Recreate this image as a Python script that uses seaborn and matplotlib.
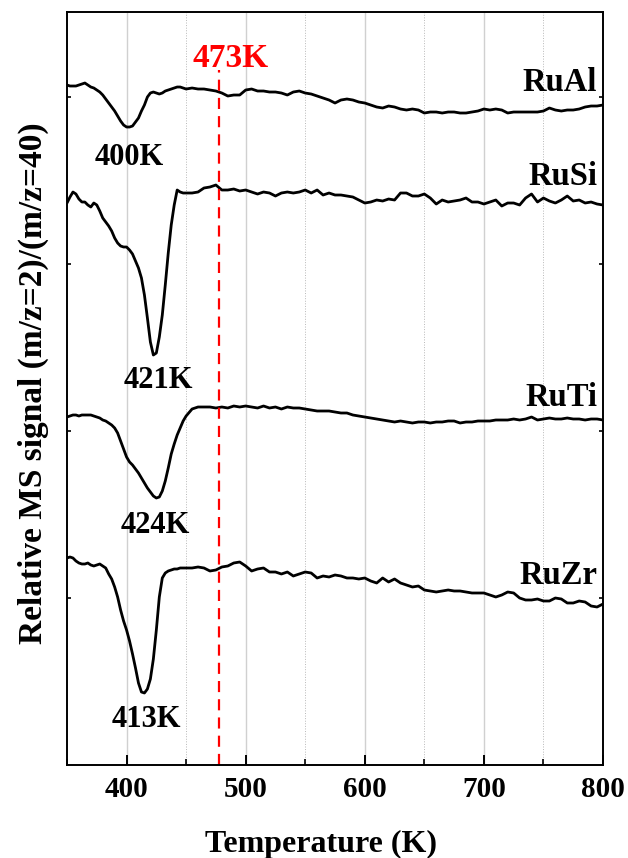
import numpy as np
import pandas as pd
import matplotlib
matplotlib.use("Agg")
import matplotlib.pyplot as plt
from matplotlib.ticker import MultipleLocator
import seaborn as sns

# temperature grid: 2.5 K steps through the desorption peaks, 5 K after
temps = np.concatenate([np.arange(350, 450, 2.5), np.arange(450, 801, 5)])

# relative MS signal (a.u., curves already stacked)
ru_al = [680, 679, 679, 679, 680, 681, 682, 680, 678, 677,
         675, 673, 670, 666, 662, 658, 654, 649, 644, 640,
         638, 638, 639, 643, 647, 654, 660, 668, 672, 673,
         672, 671, 672, 674, 675, 676, 677, 678, 678, 677,
         676, 677, 676, 676, 675, 674, 672, 669, 670, 670,
         675, 676, 674, 674, 673, 673, 672, 670, 673, 674,
         672, 671, 669, 667, 665, 662, 665, 666, 665, 663,
         662, 660, 658, 657, 659, 658, 656, 655, 656, 655,
         652, 653, 653, 652, 653, 653, 652, 652, 653, 654,
         656, 655, 656, 655, 652, 653, 653, 653, 653, 653,
         654, 657, 655, 654, 655, 655, 656, 658, 659, 659,
         660]

ru_si = [562, 568, 573, 571, 566, 563, 563, 560, 558, 562,
         560, 554, 547, 543, 539, 534, 527, 522, 519, 518,
         518, 515, 511, 504, 497, 487, 470, 447, 423, 410,
         412, 428, 450, 480, 512, 540, 560, 575, 573, 572,
         572, 572, 573, 577, 578, 580, 575, 575, 576, 574,
         575, 573, 571, 573, 572, 569, 572, 573, 572, 573,
         575, 572, 575, 570, 572, 570, 570, 569, 568, 565,
         562, 563, 565, 564, 566, 565, 572, 572, 569, 569,
         571, 567, 561, 565, 563, 564, 565, 567, 563, 563,
         561, 563, 565, 559, 562, 562, 560, 567, 571, 563,
         567, 564, 562, 565, 569, 564, 565, 562, 563, 561,
         560]

ru_ti = [348, 349, 350, 350, 349, 350, 350, 350, 350, 349,
         348, 347, 345, 344, 342, 340, 337, 332, 324, 316,
         308, 303, 300, 296, 292, 287, 282, 277, 273, 269,
         267, 268, 274, 284, 297, 311, 321, 330, 337, 344,
         349, 356, 358, 358, 358, 357, 358, 357, 359, 358,
         359, 358, 357, 359, 357, 358, 356, 358, 357, 357,
         356, 355, 354, 354, 354, 353, 352, 352, 350, 349,
         348, 347, 346, 345, 344, 343, 344, 343, 342, 343,
         343, 342, 343, 343, 344, 344, 342, 343, 343, 344,
         344, 344, 345, 345, 345, 346, 345, 346, 348, 345,
         346, 347, 346, 346, 347, 346, 346, 345, 346, 346,
         345]

ru_zr = [207, 208, 207, 204, 202, 201, 201, 202, 200, 199,
         200, 201, 199, 197, 191, 186, 178, 168, 155, 144,
         135, 124, 111, 97, 82, 73, 72, 76, 86, 106,
         135, 168, 187, 192, 194, 195, 196, 196, 197, 197,
         197, 197, 198, 197, 194, 195, 198, 199, 202, 203,
         199, 194, 196, 197, 193, 193, 191, 193, 189, 191,
         193, 192, 187, 189, 188, 190, 189, 187, 187, 186,
         187, 184, 182, 187, 183, 186, 182, 180, 178, 179,
         175, 174, 173, 174, 175, 174, 174, 173, 172, 172,
         172, 170, 168, 170, 173, 172, 167, 165, 165, 166,
         164, 164, 167, 166, 162, 162, 164, 163, 159, 158,
         161]

samples = ["RuAl", "RuSi", "RuTi", "RuZr"]
peak_labels = ["400K", "421K", "424K", "413K"]
marker_temp = 478
marker_label = "473K"

frames = []
for name, sig in zip(samples, [ru_al, ru_si, ru_ti, ru_zr]):
    frames.append(pd.DataFrame({"temperature": temps, "signal": sig, "sample": name}))
df = pd.concat(frames, ignore_index=True)

sns.set_theme(style="ticks")
plt.rcParams["font.family"] = ["Liberation Serif", "DejaVu Serif"]
plt.rcParams["font.weight"] = "bold"
plt.rcParams["axes.labelweight"] = "bold"
plt.rcParams["text.color"] = "black"
plt.rcParams["axes.labelcolor"] = "black"
plt.rcParams["xtick.color"] = "black"
plt.rcParams["ytick.color"] = "black"

fig = plt.figure(figsize=(6.28, 8.58), dpi=100)
ax = fig.add_axes([0.1067, 0.1084, 0.8535, 0.8776])

sns.lineplot(data=df, x="temperature", y="signal", units="sample", estimator=None,
             color="black", linewidth=2.0, ax=ax, legend=False)

ax.vlines(marker_temp, 0, 695, colors="red", linestyles=(0, (5, 3.2)), linewidth=1.6)
ax.text(marker_temp + 9, 698, marker_label, color="red", fontsize=24,
        fontweight="bold", ha="center", va="baseline")

# sample names at the right end of each trace
name_y = [674, 580, 359, 181]
for name, y in zip(samples, name_y):
    ax.text(795, y, name, fontsize=23.5, fontweight="bold", ha="right", va="baseline")

# peak temperatures under each minimum
peak_x = [402, 426.5, 424, 417]
peak_y = [600, 377, 232, 38]
for lab, x, y in zip(peak_labels, peak_x, peak_y):
    ax.text(x, y, lab, fontsize=22, fontweight="bold", ha="center", va="baseline")

ax.set_xlim(350, 800)
ax.set_ylim(0, 753)
ax.xaxis.set_major_locator(MultipleLocator(100))
ax.xaxis.set_minor_locator(MultipleLocator(50))
ax.set_yticks([167, 334, 501, 668])
ax.set_yticklabels([])

ax.grid(which="major", axis="x", color="#d0d0d0", linewidth=1.0, linestyle="-")
ax.grid(which="minor", axis="x", color="#b8b8b8", linewidth=0.7, linestyle=":")
ax.set_axisbelow(True)

ax.tick_params(axis="x", which="major", direction="in", length=7, width=1.4,
               labelsize=21, pad=8, top=False)
ax.tick_params(axis="x", which="minor", direction="in", length=4, width=1.2, top=False)
ax.tick_params(axis="y", which="major", direction="in", length=3, width=1.2,
               left=True, right=True, labelleft=False)
for sp in ax.spines.values():
    sp.set_linewidth(1.4)
    sp.set_color("black")
for lab in ax.get_xticklabels():
    lab.set_fontweight("bold")

ax.set_xlabel("Temperature (K)", fontsize=23, fontweight="bold", labelpad=19)
ax.xaxis.label.set_x(0.474)
ax.set_ylabel("Relative MS signal (m/z=2)/(m/z=40)", fontsize=24, fontweight="bold", labelpad=13)
ax.yaxis.label.set_y(0.507)

fig.savefig("out.png", dpi=100)
